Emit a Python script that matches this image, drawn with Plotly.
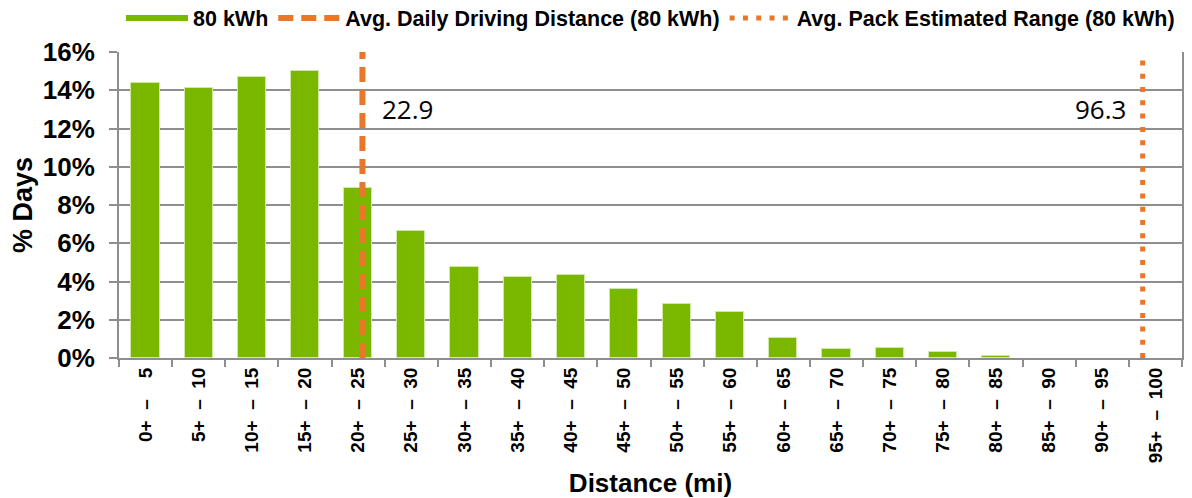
import plotly.graph_objects as go

# ---- data ----
bin_low = [0, 5, 10, 15, 20, 25, 30, 35, 40, 45, 50, 55, 60, 65, 70, 75, 80, 85, 90, 95]
bin_high = [5, 10, 15, 20, 25, 30, 35, 40, 45, 50, 55, 60, 65, 70, 75, 80, 85, 90, 95, 100]
bin_labels = [f"{lo}+  –  " + ("\u2007" if hi < 10 else "") + f"{hi}"
              for lo, hi in zip(bin_low, bin_high)]
bin_centers = [(lo + hi) / 2 for lo, hi in zip(bin_low, bin_high)]
bin_edges = bin_low + [bin_high[-1]]
pct_days = [14.4, 14.1, 14.7, 15.0, 8.9, 6.65, 4.75, 4.25, 4.35, 3.6, 2.8, 2.4,
            1.05, 0.45, 0.52, 0.33, 0.12, 0.0, 0.0, 0.0]
avg_daily_distance = 22.9
avg_pack_range = 96.3
series_name = "80 kWh"
daily_name = "Avg. Daily Driving Distance (80 kWh)"
range_name = "Avg. Pack Estimated Range (80 kWh)"

GREEN = "#7AB800"
ORANGE = "#E8772A"
GRID = "#8E8E8E"
FONT = "Liberation Sans"

fig = go.Figure()

fig.add_trace(go.Bar(
    x=bin_centers, y=pct_days, width=2.65,
    marker=dict(color=GREEN,
                line=dict(color="#CFE8A6", width=[1 if v > 0 else 0 for v in pct_days])),
    showlegend=False, name=series_name))

# legend entry for bars drawn as a thick line (Excel style)
fig.add_trace(go.Scatter(x=[None], y=[None], mode="lines", name=series_name,
                         line=dict(color=GREEN, width=6)))

fig.add_trace(go.Scatter(
    x=[avg_daily_distance, avg_daily_distance], y=[0, 10.1], yaxis="y2",
    mode="lines", name=daily_name,
    line=dict(color=ORANGE, width=6, dash="15px,8px")))

fig.add_trace(go.Scatter(
    x=[avg_pack_range, avg_pack_range], y=[0, 10], yaxis="y2",
    mode="lines", name=range_name,
    line=dict(color=ORANGE, width=5, dash="5px,8.3px")))

fig.add_annotation(x=avg_daily_distance, y=13.0, xref="x", yref="y",
                   text=f"{avg_daily_distance}", showarrow=False,
                   xanchor="left", xshift=18,
                   font=dict(family="Open Sans", size=26, color="black"))
fig.add_annotation(x=avg_pack_range, y=13.0, xref="x", yref="y",
                   text=f"{avg_pack_range}", showarrow=False,
                   xanchor="right", xshift=-15,
                   font=dict(family="Open Sans", size=26, color="black"))

# the page body adds an 8px offset, so margins are shifted accordingly
fig.update_layout(
    width=1192, height=498,
    margin=dict(l=111, r=18, t=44, b=148, autoexpand=False),
    paper_bgcolor="white", plot_bgcolor="white",
    font=dict(family=FONT, color="black"),
    bargap=0,
    legend=dict(orientation="h", x=0.5, xanchor="center", y=1.111, yanchor="middle",
                font=dict(family=FONT, size=21.5, color="black", weight="bold"),
                itemwidth=62, tracegroupgap=0, bgcolor="rgba(0,0,0,0)"),
    xaxis=dict(
        range=[0, 100], tickmode="array", tickvals=bin_centers, ticktext=bin_labels,
        tickangle=-90, ticks="", showgrid=False,
        tickfont=dict(family=FONT, size=19, color="black", weight="bold"),
        ticklabelstandoff=0,
        showline=True, linecolor=GRID, linewidth=2,
        minor=dict(tickmode="array", tickvals=bin_edges, ticks="outside",
                   ticklen=7, tickwidth=2, tickcolor=GRID, showgrid=False),
        title=dict(text="Distance (mi)", standoff=12,
                   font=dict(family=FONT, size=26, color="black", weight="bold")),
    ),
    yaxis=dict(
        range=[0, 16], dtick=2, ticksuffix="%",
        showgrid=True, gridcolor=GRID, gridwidth=2,
        showline=True, linecolor=GRID, linewidth=2,
        ticks="outside", ticklen=8, tickwidth=2, tickcolor=GRID,
        ticklabelstandoff=9,
        tickfont=dict(family=FONT, size=26, color="black", weight="bold"),
        zeroline=False,
        title=dict(text="% Days", standoff=8,
                   font=dict(family=FONT, size=27, color="black", weight="bold")),
    ),
    yaxis2=dict(
        range=[0, 10], dtick=1, overlaying="y", side="right",
        showgrid=False, zeroline=False, showticklabels=False,
        showline=True, linecolor=GRID, linewidth=2,
        ticks="outside", ticklen=7, tickwidth=2, tickcolor=GRID,
    ),
)

fig.write_html("out.html")
